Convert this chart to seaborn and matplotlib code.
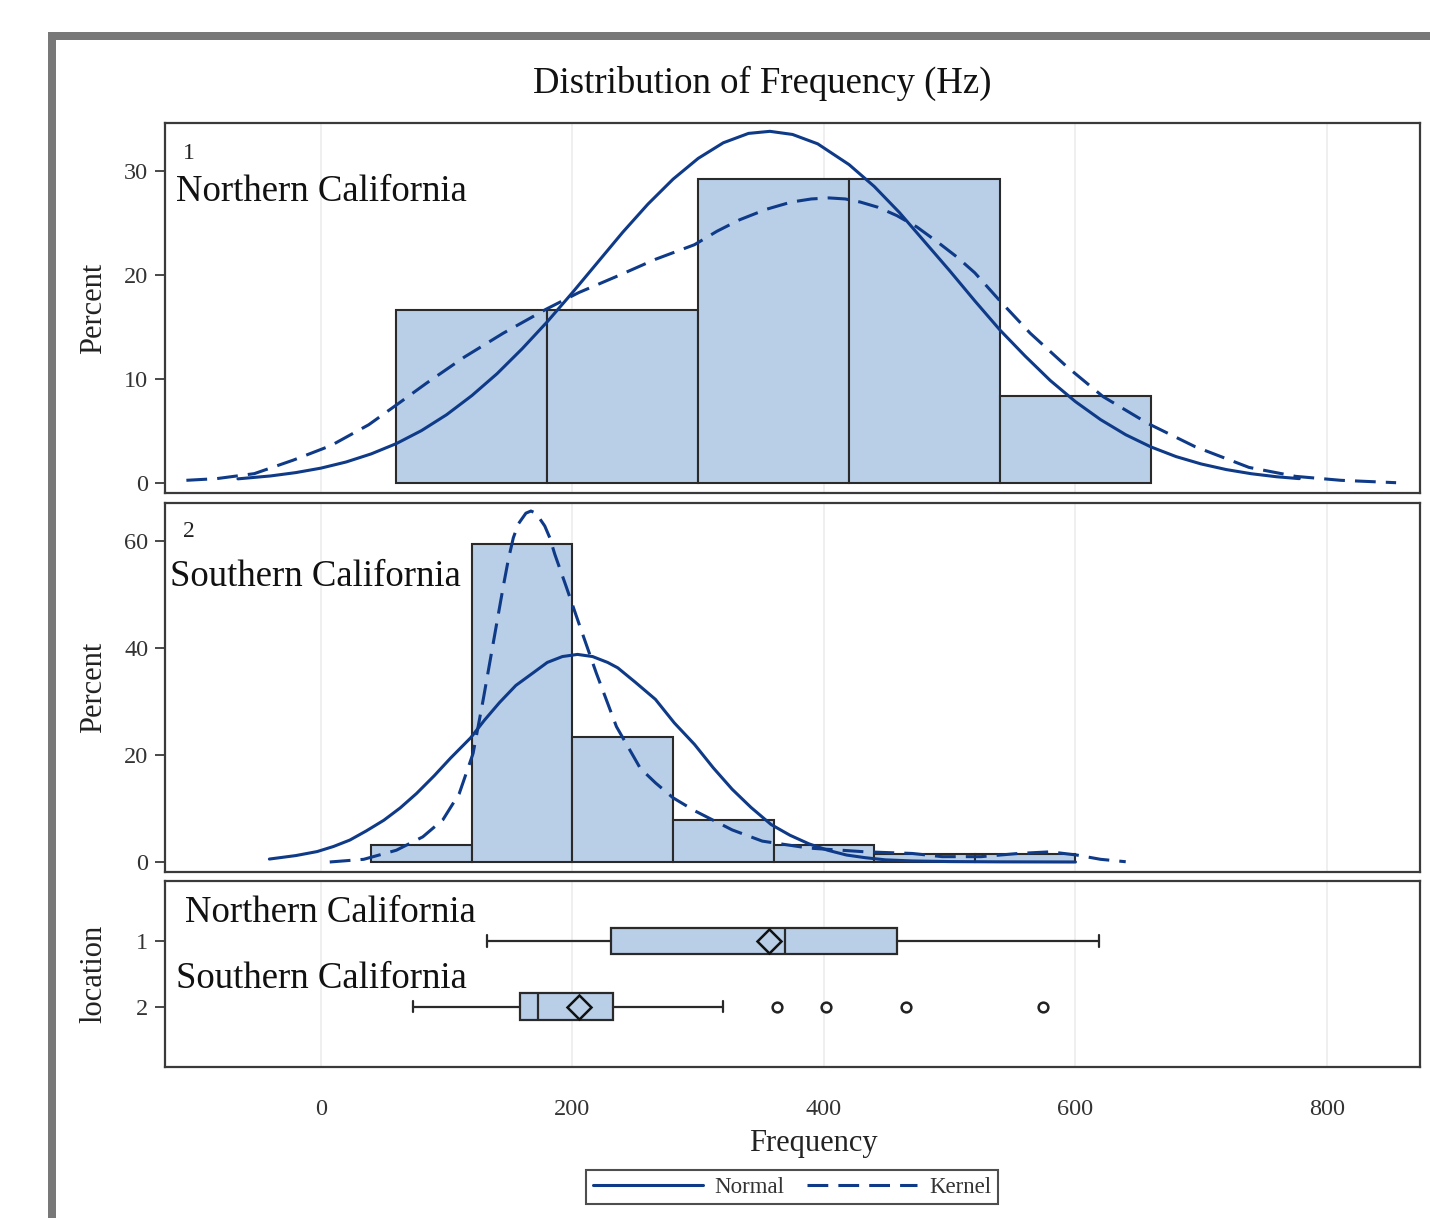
import matplotlib
matplotlib.use("Agg")
import matplotlib.pyplot as plt
from matplotlib.patches import Rectangle
from matplotlib.lines import Line2D
import seaborn as sns
import pandas as pd

# ---------------- data ----------------
north_edges = [60, 180, 300, 420, 540, 660]
north_pct = [16.67, 16.67, 29.17, 29.17, 8.33]
south_edges = [40, 120, 200, 280, 360, 440, 520, 600]
south_pct = [3.13, 59.38, 23.44, 7.81, 3.13, 1.56, 1.56]

north_normal_x = [-66, -40, -20, 0, 20, 40, 60, 80, 100, 120, 140, 160, 180, 200,
                  220, 240, 260, 280, 300, 320, 340, 357, 375, 395, 420, 440, 460,
                  480, 500, 520, 540, 560, 580, 600, 620, 640, 660, 680, 700, 720,
                  740, 760, 778]
north_normal_y = [0.40, 0.68, 1.0, 1.43, 2.02, 2.80, 3.79, 5.04, 6.57, 8.40, 10.5,
                  12.9, 15.5, 18.3, 21.2, 24.1, 26.8, 29.2, 31.2, 32.7, 33.6, 33.8,
                  33.5, 32.6, 30.6, 28.5, 26.0, 23.2, 20.4, 17.5, 14.7, 12.2, 9.85,
                  7.82, 6.09, 4.64, 3.47, 2.54, 1.83, 1.29, 0.89, 0.60, 0.42]
north_kernel_x = [-107, -83, -53, -22, 8, 38, 60, 84, 114, 145, 179, 205, 236, 266,
                  297, 315, 333, 354, 374, 390, 404, 417, 429, 443, 458, 474, 491,
                  506, 520, 540, 564, 593, 622, 658, 695, 738, 775, 811, 855]
north_kernel_y = [0.26, 0.42, 0.9, 2.2, 3.6, 5.6, 7.5, 9.6, 12.1, 14.4, 16.7, 18.3,
                  19.9, 21.5, 22.9, 24.2, 25.3, 26.3, 27.0, 27.3, 27.4, 27.3, 27.0,
                  26.5, 25.7, 24.6, 23.1, 21.7, 20.2, 17.5, 14.4, 11.2, 8.3, 5.7,
                  3.5, 1.5, 0.64, 0.26, 0.03]

south_normal_x = [-41, -20, -3, 10, 23, 36, 50, 63, 76, 90, 103, 119, 130, 142, 155,
                  169, 180, 192, 204, 216, 228, 236, 250, 266, 281, 297, 312, 327,
                  342, 358, 373, 388, 403, 418, 433, 449, 470, 500, 540, 600]
south_normal_y = [0.55, 1.2, 1.95, 2.9, 4.1, 5.8, 7.8, 10.1, 12.8, 16.1, 19.4, 23.2,
                  26.5, 29.8, 33.0, 35.4, 37.3, 38.4, 38.8, 38.4, 37.3, 36.3, 33.6,
                  30.4, 26.0, 22.0, 17.6, 13.6, 10.2, 7.0, 5.0, 3.4, 2.2, 1.3, 0.8,
                  0.4, 0.2, 0.08, 0.03, 0.0]
south_kernel_x = [7, 34, 60, 81, 97, 110, 121, 129, 137, 145, 149, 153, 157, 163, 167,
                  171, 178, 182, 186, 195, 206, 219, 235, 254, 266, 280, 297, 327,
                  351, 388, 433, 470, 494, 525, 555, 580, 601, 620, 640]
south_kernel_y = [0.0, 0.5, 2.2, 4.7, 7.9, 12.8, 20.3, 30.3, 40.9, 51.5, 56.5, 60.6,
                  63.2, 65.2, 65.6, 65.2, 62.8, 60.6, 57.5, 51.5, 44.0, 35.3, 25.3,
                  17.5, 14.8, 12.0, 9.6, 6.0, 3.9, 2.6, 1.9, 1.6, 1.0, 1.0, 1.6,
                  1.9, 1.3, 0.5, 0.05]

locations = ["Northern California", "Southern California"]
loc_codes = ["1", "2"]
box_whislo = [132, 73]
box_q1 = [231, 158]
box_med = [369, 173]
box_q3 = [458, 232]
box_whishi = [619, 320]
box_mean = [356, 205]
box_fliers = [[], [363, 402, 465, 574]]

x_ticks = [0, 200, 400, 600, 800]

# ---------------- style ----------------
sns.set_style("white")
SERIF = ["Liberation Serif", "DejaVu Serif"]
plt.rcParams["font.family"] = SERIF
plt.rcParams["text.color"] = "#222222"

BAR = "#b9cfe8"
EDGE = "#2a2a2a"
CURVE = "#0e3a88"
SPINE = "#3a3a3a"
GRID = "#ececec"
LW_CURVE = 2.2
DASH = (0, (6.8, 3.3))
BIG = 26.5

W, H = 1430, 1218
fig = plt.figure(figsize=(W / 100, H / 100), dpi=100)

# outer gray frame (left and top)
fig.add_artist(Rectangle((48 / W, 0), 8 / W, 1 - 32 / H, transform=fig.transFigure,
                         color="#787878", lw=0))
fig.add_artist(Rectangle((48 / W, 1 - 40 / H), 1 - 48 / W, 8 / H, transform=fig.transFigure,
                         color="#787878", lw=0))


def ax_rect(top, bottom, left=165, right=1420):
    return [left / W, 1 - bottom / H, (right - left) / W, (bottom - top) / H]


ax1 = fig.add_axes(ax_rect(123, 493))
ax2 = fig.add_axes(ax_rect(503, 872))
ax3 = fig.add_axes(ax_rect(881, 1067))

XLIM = (-124, 874)


def style_axis(ax):
    ax.set_xlim(*XLIM)
    ax.set_xticks(x_ticks)
    ax.grid(axis="x", color=GRID, lw=1.2, zorder=0)
    ax.grid(axis="y", visible=False)
    ax.set_axisbelow(True)
    for s in ax.spines.values():
        s.set_visible(True)
        s.set_color(SPINE)
        s.set_linewidth(1.6)
    ax.tick_params(axis="y", direction="out", length=7, width=1.3, color=SPINE,
                   labelsize=17.5, labelcolor="#333333", pad=5, left=True)
    ax.tick_params(axis="x", direction="out", length=7, width=1.3, color=SPINE,
                   labelsize=17.5, labelcolor="#333333", pad=16)


def hist_panel(ax, edges, pct, nx, ny, kx, ky):
    e = [float(v) for v in edges]
    centers = [(e[i] + e[i + 1]) / 2 for i in range(len(e) - 1)]
    df = pd.DataFrame({"x": centers, "w": pct})
    sns.histplot(data=df, x="x", weights="w", bins=e, ax=ax, color=BAR, alpha=1,
                 edgecolor=EDGE, linewidth=1.5, zorder=2)
    sns.lineplot(x=nx, y=ny, ax=ax, color=CURVE, lw=LW_CURVE, zorder=4, sort=False)
    sns.lineplot(x=kx, y=ky, ax=ax, color=CURVE, lw=LW_CURVE, linestyle=DASH,
                 zorder=4, sort=False)


hist_panel(ax1, north_edges, north_pct, north_normal_x, north_normal_y,
           north_kernel_x, north_kernel_y)
hist_panel(ax2, south_edges, south_pct, south_normal_x, south_normal_y,
           south_kernel_x, south_kernel_y)

for ax in (ax1, ax2, ax3):
    style_axis(ax)

ax1.set_ylim(-0.96, 34.6)
ax1.set_yticks([0, 10, 20, 30])
ax2.set_ylim(-1.87, 67.1)
ax2.set_yticks([0, 20, 40, 60])
for ax in (ax1, ax2):
    ax.tick_params(axis="x", bottom=False, labelbottom=False)
    ax.set_xlabel("")
    ax.set_ylabel("Percent", fontsize=22, color="#222222")
    ax.yaxis.set_label_coords(-0.045, 0.5)

ax1.text(0.014, 0.918, loc_codes[0], transform=ax1.transAxes, fontsize=17,
         ha="left", va="center")
ax1.text(0.009, 0.815, locations[0], transform=ax1.transAxes, fontsize=BIG,
         ha="left", va="center", color="#111111")
ax2.text(0.014, 0.924, loc_codes[1], transform=ax2.transAxes, fontsize=17,
         ha="left", va="center")
ax2.text(0.004, 0.800, locations[1], transform=ax2.transAxes, fontsize=BIG,
         ha="left", va="center", color="#111111")

# ---------------- box plot panel ----------------
stats = []
for i in range(len(locations)):
    stats.append(dict(label=loc_codes[i], whislo=box_whislo[i], q1=box_q1[i],
                      med=box_med[i], q3=box_q3[i], whishi=box_whishi[i],
                      mean=box_mean[i], fliers=box_fliers[i]))

ax3.bxp(stats, positions=[1, 2], orientation="horizontal", widths=0.4,
        patch_artist=True, showmeans=True, manage_ticks=False, capwidths=0.18,
        boxprops=dict(facecolor=BAR, edgecolor=EDGE, linewidth=1.6),
        medianprops=dict(color=EDGE, linewidth=1.6),
        whiskerprops=dict(color=EDGE, linewidth=1.6),
        capprops=dict(color=EDGE, linewidth=1.6),
        meanprops=dict(marker="D", markerfacecolor="none", markeredgecolor="#111111",
                       markeredgewidth=1.8, markersize=12),
        flierprops=dict(marker="o", markerfacecolor="none", markeredgecolor="#222222",
                        markeredgewidth=1.8, markersize=7),
        zorder=3)
ax3.set_ylim(2.92, 0.09)
ax3.set_yticks([1, 2])
ax3.set_yticklabels(loc_codes)
ax3.set_ylabel("location", fontsize=22, color="#222222")
ax3.yaxis.set_label_coords(-0.045, 0.5)
ax3.set_xlabel("Frequency", fontsize=22, color="#222222")
ax3.xaxis.set_label_coords(0.517, -0.409)
ax3.xaxis.label.set_va("center")
ax3.text(0.016, 0.83, locations[0], transform=ax3.transAxes, fontsize=BIG,
         ha="left", va="center", color="#111111")
ax3.text(0.009, 0.476, locations[1], transform=ax3.transAxes, fontsize=BIG,
         ha="left", va="center", color="#111111")

# ---------------- title & legend ----------------
fig.text(762 / W, 1 - 83 / H, "Distribution of Frequency (Hz)", ha="center",
         va="center", fontsize=26.5, color="#111111")

handles = [Line2D([], [], color=CURVE, lw=LW_CURVE),
           Line2D([], [], color=CURVE, lw=LW_CURVE, linestyle=DASH)]
leg = fig.legend(handles, ["Normal", "Kernel"], loc="center",
                 bbox_to_anchor=(792 / W, 1 - 1187 / H), ncol=2, fontsize=16.5,
                 frameon=True, fancybox=False, edgecolor="#222222",
                 handlelength=4.8, handletextpad=0.5, columnspacing=1.0,
                 borderpad=0.3, borderaxespad=0)
leg.get_frame().set_linewidth(1.5)
for t in leg.get_texts():
    t.set_color("#333333")

fig.savefig("out.png", dpi=100)
